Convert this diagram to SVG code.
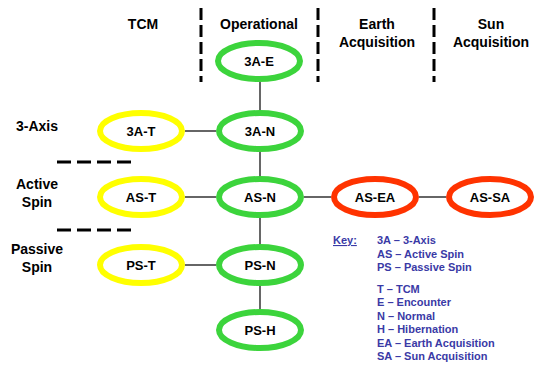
<svg xmlns="http://www.w3.org/2000/svg" width="537" height="367" viewBox="0 0 537 367">
<style>
text{font-family:"Liberation Sans",Arial,sans-serif;font-weight:bold;fill:#000}
.hd{font-size:14px;text-anchor:middle}
.nl{font-size:13px;text-anchor:middle}
.el{fill:#fff;stroke-width:6}
.g{stroke:#3cd43c}.y{stroke:#ffff00}.r{stroke:#ff3300}
.k{font-size:11px;fill:#3a3aa6}
.dv{stroke:#000;stroke-width:3;stroke-dasharray:12,5}
.dh{stroke:#000;stroke-width:3;stroke-dasharray:14,6}
.c{stroke:#000;stroke-width:1.2}
</style>
<rect width="537" height="367" fill="#fff"/>
<g id="headers">
<text class="hd" x="143" y="29">TCM</text>
<text class="hd" x="259" y="29">Operational</text>
<text class="hd" x="377" y="29">Earth</text>
<text class="hd" x="377" y="47">Acquisition</text>
<text class="hd" x="491" y="29">Sun</text>
<text class="hd" x="491" y="47">Acquisition</text>
<text class="hd" x="37" y="131">3-Axis</text>
<text class="hd" x="37" y="189">Active</text>
<text class="hd" x="37" y="207">Spin</text>
<text class="hd" x="37" y="254">Passive</text>
<text class="hd" x="37" y="272">Spin</text>
</g>
<g id="dividers">
<line class="dv" x1="201" y1="8" x2="201" y2="82"/>
<line class="dv" x1="318" y1="8" x2="318" y2="82"/>
<line class="dv" x1="434" y1="8" x2="434" y2="82"/>
<line class="dh" x1="57" y1="162" x2="131" y2="162"/>
<line class="dh" x1="57" y1="230" x2="131" y2="230"/>
</g>
<g id="connectors">
<line class="c" x1="260" y1="82" x2="260" y2="110"/>
<line class="c" x1="260" y1="152" x2="260" y2="176"/>
<line class="c" x1="260" y1="218" x2="260" y2="244"/>
<line class="c" x1="260" y1="286" x2="260" y2="309"/>
<line class="c" x1="185" y1="131" x2="216" y2="131"/>
<line class="c" x1="185" y1="197" x2="216" y2="197"/>
<line class="c" x1="185" y1="265" x2="216" y2="265"/>
<line class="c" x1="304" y1="197" x2="331" y2="197"/>
<line class="c" x1="419" y1="197" x2="446" y2="197"/>
</g>
<g id="n3AE"><ellipse class="el g" cx="259" cy="61" rx="41" ry="18"/><text class="nl" x="259" y="66">3A-E</text></g>
<g id="n3AT"><ellipse class="el y" cx="141" cy="131" rx="41" ry="18"/><text class="nl" x="141" y="136">3A-T</text></g>
<g id="n3AN"><ellipse class="el g" cx="260" cy="131" rx="41" ry="18"/><text class="nl" x="260" y="136">3A-N</text></g>
<g id="nAST"><ellipse class="el y" cx="141" cy="197" rx="41" ry="18"/><text class="nl" x="141" y="202">AS-T</text></g>
<g id="nASN"><ellipse class="el g" cx="260" cy="197" rx="41" ry="18"/><text class="nl" x="260" y="202">AS-N</text></g>
<g id="nASEA"><ellipse class="el r" cx="375" cy="197" rx="41" ry="18"/><text class="nl" x="375" y="202">AS-EA</text></g>
<g id="nASSA"><ellipse class="el r" cx="490" cy="197" rx="41" ry="18"/><text class="nl" x="490" y="202">AS-SA</text></g>
<g id="nPST"><ellipse class="el y" cx="141" cy="265" rx="41" ry="18"/><text class="nl" x="141" y="270">PS-T</text></g>
<g id="nPSN"><ellipse class="el g" cx="260" cy="265" rx="41" ry="18"/><text class="nl" x="260" y="270">PS-N</text></g>
<g id="nPSH"><ellipse class="el g" cx="260" cy="330" rx="41" ry="18"/><text class="nl" x="260" y="335">PS-H</text></g>
<g id="key">
<text class="k" x="333" y="244" text-decoration="underline">Key:</text>
<text class="k" x="377" y="244">3A – 3-Axis</text>
<text class="k" x="377" y="258">AS – Active Spin</text>
<text class="k" x="377" y="271">PS – Passive Spin</text>
<text class="k" x="377" y="293">T – TCM</text>
<text class="k" x="377" y="306">E – Encounter</text>
<text class="k" x="377" y="320">N – Normal</text>
<text class="k" x="377" y="333">H – Hibernation</text>
<text class="k" x="377" y="347">EA – Earth Acquisition</text>
<text class="k" x="377" y="360">SA – Sun Acquisition</text>
</g>
</svg>
